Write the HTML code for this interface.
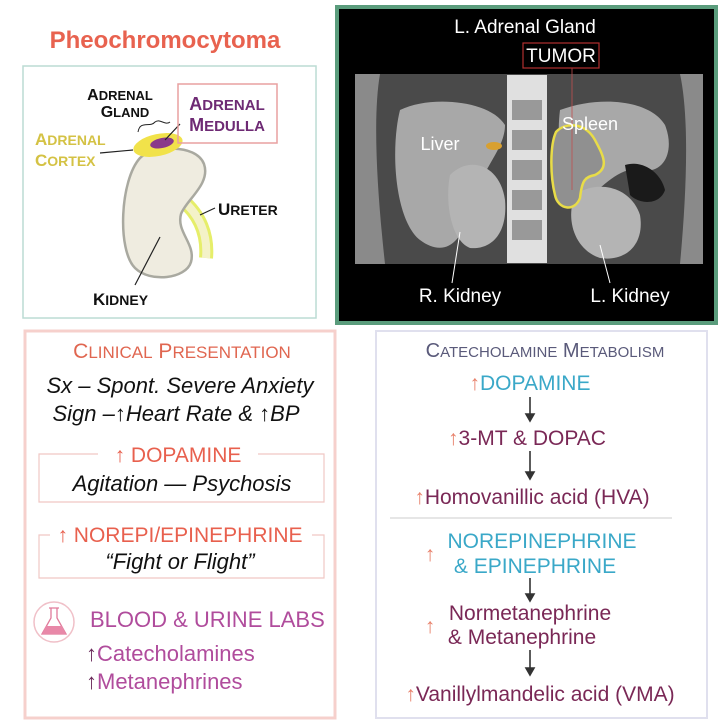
<!DOCTYPE html>
<html><head><meta charset="utf-8"><style>
html,body{margin:0;padding:0;background:#fff;}
svg{display:block;}
text{font-family:"Liberation Sans",sans-serif;}
.it{font-style:italic;}
</style></head><body>
<svg width="720" height="720" viewBox="0 0 720 720" xmlns="http://www.w3.org/2000/svg">
<rect width="720" height="720" fill="#fff"/>
<text x="165" y="48" text-anchor="middle" font-size="24" font-weight="bold" fill="#e8624f">Pheochromocytoma</text>
<rect x="23" y="66" width="293" height="252" fill="#fff" stroke="#bcdcd4" stroke-width="1.5"/>
<path d="M182,200 C200,215 208,235 206,258" fill="none" stroke="#e6ee6a" stroke-width="14"/>
<path d="M182,200 C200,215 208,235 206,258" fill="none" stroke="#f4f2c8" stroke-width="8"/>
<path d="M140,158 C152,146 196,143 204,164 C211,184 186,200 181,214 C176,232 196,244 191,262 C186,279 150,283 135,268 C117,250 120,180 140,158 Z" fill="#efece0" stroke="#a9a9a0" stroke-width="2.5"/>
<ellipse cx="158" cy="145" rx="25" ry="11" transform="rotate(-12 158 145)" fill="#f1e24a"/>
<ellipse cx="162" cy="143" rx="12" ry="5" transform="rotate(-12 162 143)" fill="#8a3a8a"/>
<path d="M138,132 C140,120 150,128 155,122 C160,118 165,126 170,122" fill="none" stroke="#222" stroke-width="1"/>
<line x1="165" y1="140" x2="180" y2="124" stroke="#222" stroke-width="1.2"/>
<line x1="100" y1="153" x2="133" y2="150" stroke="#222" stroke-width="1.2"/>
<line x1="160" y1="237" x2="135" y2="285" stroke="#222" stroke-width="1.2"/>
<line x1="200" y1="215" x2="215" y2="208" stroke="#222" stroke-width="1.2"/>
<text x="120" y="100" text-anchor="middle" font-size="16" font-weight="bold" fill="#111">A<tspan font-size="13">DRENAL</tspan></text>
<text x="125" y="117" text-anchor="middle" font-size="16" font-weight="bold" fill="#111">G<tspan font-size="13">LAND</tspan></text>
<rect x="178" y="84" width="99" height="59" fill="none" stroke="#e8a0a0" stroke-width="1.5"/>
<text x="227" y="110" text-anchor="middle" font-size="18" font-weight="bold" fill="#6e2a74">A<tspan font-size="15">DRENAL</tspan></text>
<text x="227" y="131" text-anchor="middle" font-size="18" font-weight="bold" fill="#6e2a74">M<tspan font-size="15">EDULLA</tspan></text>
<text x="35" y="145" font-size="17" font-weight="bold" fill="#d4c244">A<tspan font-size="14">DRENAL</tspan></text>
<text x="35" y="166" font-size="17" font-weight="bold" fill="#d4c244">C<tspan font-size="14">ORTEX</tspan></text>
<text x="218" y="215" font-size="17" font-weight="bold" fill="#111">U<tspan font-size="14">RETER</tspan></text>
<text x="93" y="305" font-size="17" font-weight="bold" fill="#111">K<tspan font-size="14">IDNEY</tspan></text>

<rect x="337" y="7" width="379" height="316" fill="#000" stroke="#5a9c7c" stroke-width="4"/>
<rect x="355" y="74" width="348" height="190" fill="#4a4a4a"/>
<path d="M355,74 L380,74 C372,120 378,200 385,264 L355,264Z" fill="#8a8a8a"/>
<path d="M703,74 L680,74 C690,120 686,200 680,264 L703,264Z" fill="#8a8a8a"/>
<path d="M400,110 C430,95 490,100 505,125 C505,150 480,170 470,210 C460,250 440,255 420,240 C395,220 390,150 400,110Z" fill="#a8a8a8"/>
<path d="M450,175 C470,155 500,165 505,200 C508,235 490,250 470,248 C450,240 445,200 450,175Z" fill="#b4b4b4"/>
<rect x="507" y="75" width="40" height="188" fill="#e0e0e0"/>
<g fill="#999"><rect x="512" y="100" width="30" height="20"/><rect x="512" y="130" width="30" height="20"/><rect x="512" y="160" width="30" height="20"/><rect x="512" y="190" width="30" height="20"/><rect x="512" y="220" width="30" height="20"/></g>
<path d="M560,110 C600,95 650,100 665,125 C675,150 665,175 640,170 C620,165 600,190 585,200 C565,200 555,150 560,110Z" fill="#a8a8a8"/>
<path d="M575,195 C595,180 630,185 640,215 C645,245 625,262 600,258 C575,250 565,220 575,195Z" fill="#b4b4b4"/>
<path d="M625,165 C640,160 660,170 665,190 C660,205 640,205 630,195Z" fill="#1a1a1a"/>
<path d="M556,132 C565,122 585,122 595,140 C603,155 610,168 595,175 C585,177 582,180 580,198 C575,212 558,210 555,195 C550,175 550,145 556,132Z" fill="#909090" stroke="#e8dc48" stroke-width="2.5"/>
<line x1="572" y1="55" x2="572" y2="190" stroke="#c05050" stroke-width="0.8"/>
<ellipse cx="494" cy="146" rx="8" ry="4" fill="#d8a030"/>
<text x="525" y="33" text-anchor="middle" font-size="19" fill="#fff">L. Adrenal Gland</text>
<rect x="523" y="43" width="76" height="25" fill="#000" stroke="#b03030" stroke-width="1.2"/>
<text x="561" y="62" text-anchor="middle" font-size="19" fill="#fff">TUMOR</text>
<text x="440" y="150" text-anchor="middle" font-size="18" fill="#fff">Liver</text>
<text x="590" y="130" text-anchor="middle" font-size="18" fill="#fff">Spleen</text>
<line x1="460" y1="232" x2="452" y2="283" stroke="#fff" stroke-width="1"/>
<line x1="600" y1="245" x2="610" y2="283" stroke="#fff" stroke-width="1"/>
<text x="460" y="302" text-anchor="middle" font-size="19" fill="#fff">R. Kidney</text>
<text x="630" y="302" text-anchor="middle" font-size="19" fill="#fff">L. Kidney</text>

<rect x="25" y="331" width="310" height="387" fill="#fff" stroke="#f6d0cc" stroke-width="3"/>
<text x="182" y="358" text-anchor="middle" font-size="21" fill="#e06650">C<tspan font-size="17">LINICAL</tspan> P<tspan font-size="17">RESENTATION</tspan></text>
<text x="180" y="393" text-anchor="middle" font-size="22" class="it" fill="#111">Sx – Spont. Severe Anxiety</text>
<text x="176" y="421" text-anchor="middle" font-size="22" class="it" fill="#111">Sign –↑Heart Rate &amp; ↑BP</text>
<path d="M98,454 H39 V502 H324 V454 H258" fill="none" stroke="#f0c8c4" stroke-width="1.2"/>
<text x="178" y="462" text-anchor="middle" font-size="21" fill="#e8604e">↑ DOPAMINE</text>
<text x="182" y="491" text-anchor="middle" font-size="22" class="it" fill="#111">Agitation — Psychosis</text>
<path d="M50,535 H39 V578 H324 V535 H312" fill="none" stroke="#f0c8c4" stroke-width="1.2"/>
<text x="180" y="542" text-anchor="middle" font-size="21" fill="#e8604e">↑ NOREPI/EPINEPHRINE</text>
<text x="180" y="569" text-anchor="middle" font-size="22" class="it" fill="#111">“Fight or Flight”</text>
<circle cx="54" cy="622" r="20" fill="#fff" stroke="#f0c0c8" stroke-width="1.5"/>
<path d="M49,608 H59 M51,608 V618 L42,634 H66 L57,618 V608" fill="#fff" stroke="#e07a9a" stroke-width="1.3"/>
<path d="M46,626 H62 L66,634 H42Z" fill="#e888a8"/>
<text x="90" y="627" font-size="22" fill="#b04c9c">BLOOD &amp; URINE LABS</text>
<text x="86" y="661" font-size="22" fill="#b04c9c"><tspan fill="#6a2a5a">↑</tspan>Catecholamines</text>
<text x="86" y="689" font-size="22" fill="#b04c9c"><tspan fill="#6a2a5a">↑</tspan>Metanephrines</text>

<rect x="376" y="331" width="331" height="387" fill="#fff" stroke="#e0e0ee" stroke-width="2"/>
<text x="545" y="357" text-anchor="middle" font-size="20" fill="#5a5a7a">C<tspan font-size="15">ATECHOLAMINE</tspan> M<tspan font-size="15">ETABOLISM</tspan></text>
<g font-size="21">
<text x="530" y="390" text-anchor="middle" fill="#3aa8c8"><tspan fill="#e8806a">↑</tspan>DOPAMINE</text>
<text x="527" y="445" text-anchor="middle" fill="#7a2856"><tspan fill="#e8806a">↑</tspan>3-MT &amp; DOPAC</text>
<text x="532" y="504" text-anchor="middle" fill="#7a2856"><tspan fill="#e8806a">↑</tspan>Homovanillic acid (HVA)</text>
<text x="542" y="548" text-anchor="middle" fill="#3aa8c8">NOREPINEPHRINE</text>
<text x="535" y="573" text-anchor="middle" fill="#3aa8c8">&amp; EPINEPHRINE</text>
<text x="430" y="561" text-anchor="middle" fill="#e8806a">↑</text>
<text x="530" y="620" text-anchor="middle" fill="#7a2856">Normetanephrine</text>
<text x="522" y="644" text-anchor="middle" fill="#7a2856">&amp; Metanephrine</text>
<text x="430" y="633" text-anchor="middle" fill="#e8806a">↑</text>
<text x="540" y="701" text-anchor="middle" fill="#7a2856"><tspan fill="#e8806a">↑</tspan>Vanillylmandelic acid (VMA)</text>
</g>
<line x1="390" y1="518" x2="672" y2="518" stroke="#ccc" stroke-width="1"/>
<g stroke="#333" stroke-width="1.6" fill="#333">
<line x1="530" y1="397" x2="530" y2="416"/><path d="M526,414 L534,414 L530,421Z"/>
<line x1="530" y1="451" x2="530" y2="474"/><path d="M526,472 L534,472 L530,479Z"/>
<line x1="530" y1="578" x2="530" y2="596"/><path d="M526,594 L534,594 L530,601Z"/>
<line x1="530" y1="650" x2="530" y2="670"/><path d="M526,668 L534,668 L530,675Z"/>
</g>
</svg>
</body></html>
